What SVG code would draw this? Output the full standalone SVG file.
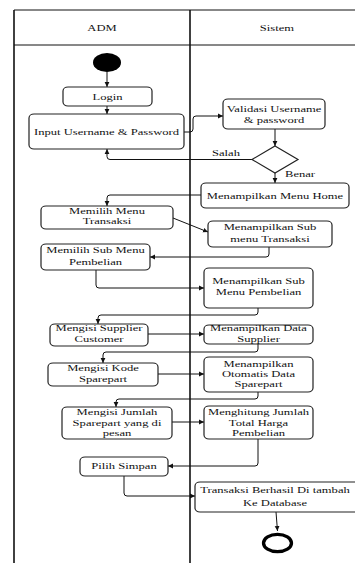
<svg xmlns="http://www.w3.org/2000/svg" width="355" height="563" viewBox="0 0 355 563">
<style>
.frame{fill:none;stroke:#111;stroke-width:1}
.lane{stroke:#111;stroke-width:1.6}
.box{fill:#fff;stroke:#222;stroke-width:1.2}
.c{fill:none;stroke:#111;stroke-width:1}
.a{marker-end:url(#arr)}
text{font-family:"Liberation Serif","Times New Roman",serif;font-size:9px;fill:#111;text-anchor:middle}
.l{text-anchor:start}
</style>
<defs>
<marker id="arr" markerUnits="userSpaceOnUse" markerWidth="6" markerHeight="6" refX="5" refY="3" orient="auto">
<path d="M0,0.6 L5,3 L0,5.4 z" fill="#111"/>
</marker>
</defs>
<rect width="355" height="563" fill="#fff"/>
<g id="frame">
<line class="frame" x1="14" y1="10" x2="364" y2="10"/>
<line class="frame" x1="14" y1="45" x2="364" y2="45"/>
<line class="lane" x1="14" y1="10" x2="14" y2="570"/>
<line class="lane" x1="190" y1="10" x2="190" y2="570"/>
<text transform="matrix(1.4,0,0,1,102,0)" y="31">ADM</text>
<text transform="matrix(1.4,0,0,1,277,0)" y="31">Sistem</text>
</g>
<g id="connectors">
<path class="c a" d="M107,72 V87"/>
<path class="c a" d="M107,106 V114"/>
<path class="c a" d="M184,132 H190 Q193,132 193,129 V119 Q193,116 196,116 H223"/>
<path class="c a" d="M275,129 V146"/>
<path class="c a" d="M252,159.5 H110 Q107,159.5 107,156.5 V149"/>
<path class="c a" d="M275,173 V183"/>
<path class="c a" d="M201,195 H110 Q107,195 107,198 V206"/>
<path class="c a" d="M173,218 L208,232"/>
<path class="c a" d="M269,247 V254 Q269,257 266,257 H150"/>
<path class="c a" d="M96,270 V285 Q96,288 99,288 H204"/>
<path class="c a" d="M258,308 V312 Q258,315 255,315 H101 Q98,315 98,318 V324"/>
<path class="c a" d="M148,334 H204"/>
<path class="c a" d="M258,344 V349 Q258,352 255,352 H106 Q103,352 103,355 V363"/>
<path class="c a" d="M158,374 H204"/>
<path class="c a" d="M258,392 V396 Q258,399 255,399 H119 Q116,399 116,402 V407"/>
<path class="c a" d="M172,422 H204"/>
<path class="c a" d="M258,439 V463 Q258,466 255,466 H168"/>
<path class="c a" d="M124,476 V493 Q124,496 127,496 H195"/>
<path class="c a" d="M276,512 L277.5,531"/>
<text class="l" transform="matrix(1.4,0,0,1,212,0)" y="156">Salah</text>
<text class="l" transform="matrix(1.4,0,0,1,285,0)" y="177.5">Benar</text>
</g>
<g id="start"><ellipse cx="107" cy="62.5" rx="14" ry="9.5" fill="#000"/></g>
<g id="login"><rect class="box" x="63" y="87" width="89" height="19" rx="5" ry="4"/>
<text transform="matrix(1.4,0,0,1,107.5,0)" y="100">Login</text></g>
<g id="input"><rect class="box" x="29" y="114" width="155" height="35" rx="5" ry="4"/>
<text transform="matrix(1.4,0,0,1,106.5,0)" y="135">Input Username &amp; Password</text></g>
<g id="validasi"><rect class="box" x="223" y="99" width="102" height="30" rx="5" ry="4"/>
<text transform="matrix(1.4,0,0,1,274,0)"><tspan x="0" y="112">Validasi Username</tspan><tspan x="0" y="123">&amp; password</tspan></text></g>
<g id="decision"><path class="box" d="M275,146 L298,159.5 L275,173 L252,159.5 z"/></g>
<g id="menuhome"><rect class="box" x="201" y="183" width="148" height="25" rx="5" ry="4"/>
<text transform="matrix(1.4,0,0,1,275,0)" y="198.7">Menampilkan Menu Home</text></g>
<g id="memilihmenu"><rect class="box" x="41" y="206" width="132" height="23" rx="5" ry="4"/>
<text transform="matrix(1.4,0,0,1,107,0)"><tspan x="0" y="214.5">Memilih Menu</tspan><tspan x="0" y="224.5">Transaksi</tspan></text></g>
<g id="submenutransaksi"><rect class="box" x="208" y="221" width="124" height="26" rx="5" ry="4"/>
<text transform="matrix(1.4,0,0,1,270,0)"><tspan x="0" y="230.5">Menampilkan Sub</tspan><tspan x="0" y="241.7">menu Transaksi</tspan></text></g>
<g id="memilihsub"><rect class="box" x="41" y="244" width="109" height="26" rx="5" ry="4"/>
<text transform="matrix(1.4,0,0,1,95.5,0)"><tspan x="0" y="253.5">Memilih Sub Menu</tspan><tspan x="0" y="265">Pembelian</tspan></text></g>
<g id="subpembelian"><rect class="box" x="204" y="268" width="109" height="40" rx="5" ry="4"/>
<text transform="matrix(1.4,0,0,1,258.5,0)"><tspan x="0" y="284">Menampilkan Sub</tspan><tspan x="0" y="295.3">Menu Pembelian</tspan></text></g>
<g id="supplier"><rect class="box" x="50" y="324" width="98" height="22" rx="5" ry="4"/>
<text transform="matrix(1.4,0,0,1,99,0)"><tspan x="0" y="331">Mengisi Supplier</tspan><tspan x="0" y="342.3">Customer</tspan></text></g>
<g id="datasupplier"><rect class="box" x="204" y="325" width="109" height="19" rx="5" ry="4"/>
<text transform="matrix(1.4,0,0,1,258.5,0)"><tspan x="0" y="331">Menampilkan Data</tspan><tspan x="0" y="342.3">Supplier</tspan></text></g>
<g id="kode"><rect class="box" x="48" y="363" width="110" height="23" rx="5" ry="4"/>
<text transform="matrix(1.4,0,0,1,103,0)"><tspan x="0" y="371.3">Mengisi Kode</tspan><tspan x="0" y="382">Sparepart</tspan></text></g>
<g id="otomatis"><rect class="box" x="204" y="357" width="109" height="35" rx="5" ry="4"/>
<text transform="matrix(1.4,0,0,1,258.5,0)"><tspan x="0" y="366.7">Menampilkan</tspan><tspan x="0" y="376.7">Otomatis Data</tspan><tspan x="0" y="386.7">Sparepart</tspan></text></g>
<g id="jumlah"><rect class="box" x="62" y="407" width="110" height="32" rx="5" ry="4"/>
<text transform="matrix(1.4,0,0,1,117,0)"><tspan x="0" y="415">Mengisi Jumlah</tspan><tspan x="0" y="425.7">Sparepart yang di</tspan><tspan x="0" y="436">pesan</tspan></text></g>
<g id="hitung"><rect class="box" x="204" y="406" width="109" height="33" rx="5" ry="4"/>
<text transform="matrix(1.4,0,0,1,258.5,0)"><tspan x="0" y="415">Menghitung Jumlah</tspan><tspan x="0" y="425.7">Total Harga</tspan><tspan x="0" y="436">Pembelian</tspan></text></g>
<g id="simpan"><rect class="box" x="80" y="457" width="88" height="19" rx="5" ry="4"/>
<text transform="matrix(1.4,0,0,1,124,0)" y="469.3">Pilih Simpan</text></g>
<g id="transaksi"><rect class="box" x="195" y="482" width="165" height="30" rx="5" ry="4"/>
<text transform="matrix(1.4,0,0,1,275,0)"><tspan x="0" y="493.5">Transaksi Berhasil Di tambah</tspan><tspan x="0" y="505.7">Ke Database</tspan></text></g>
<g id="end"><ellipse cx="277.5" cy="543" rx="14" ry="8.7" fill="#fff" stroke="#000" stroke-width="3.3"/></g>
</svg>
